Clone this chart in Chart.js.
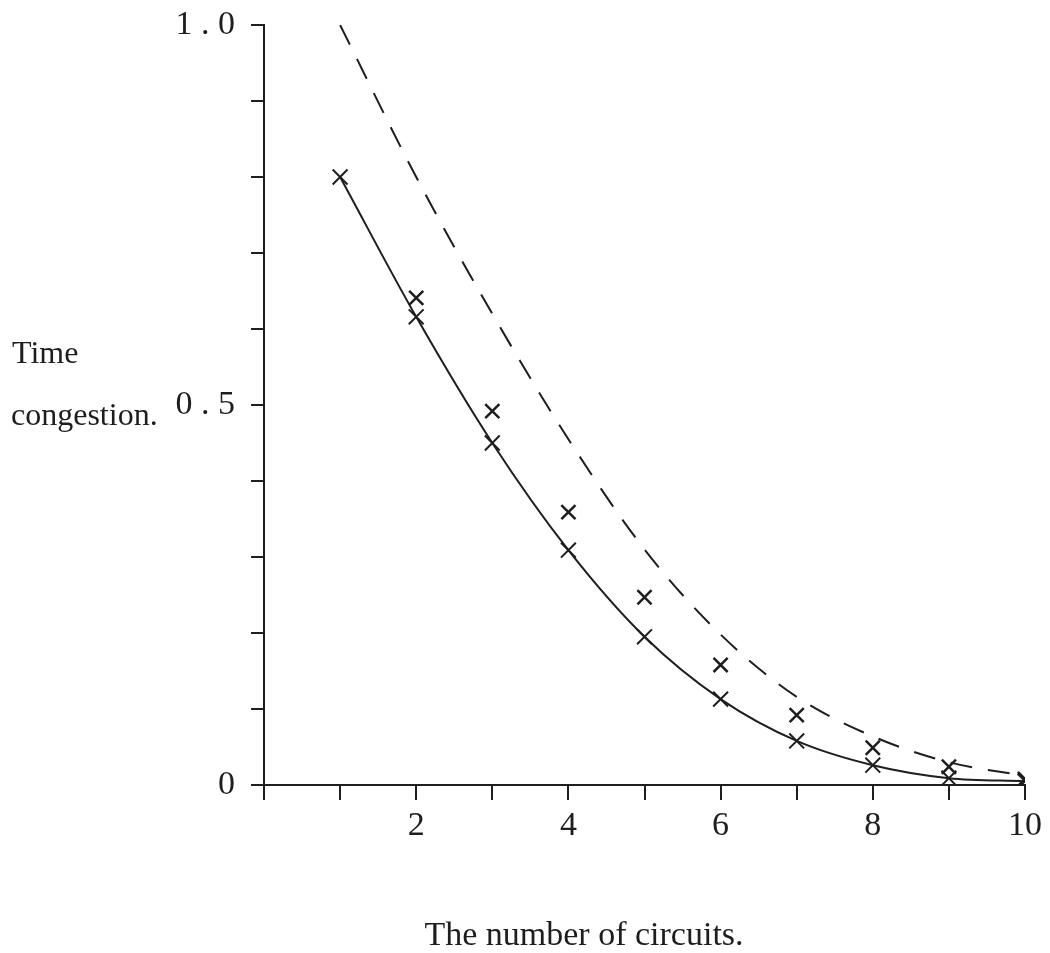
<!DOCTYPE html>
<html>
<head>
<meta charset="utf-8">
<title>Time congestion</title>
<script src="https://cdn.jsdelivr.net/npm/chart.js@4/dist/chart.umd.min.js"></script>
<style>
    html, body { margin: 0; padding: 0; background: #fff; }
    canvas { display: block; }
</style>
</head>
<body>
<canvas id="grafico" width="1050" height="953"></canvas>
<script>
// ===============================
// DATA
// ===============================

const circuits = [1, 2, 3, 4, 5, 6, 7, 8, 9, 10];

// dashed curve
const bound = [1.0, 0.80, 0.62, 0.455, 0.31, 0.198, 0.116, 0.064, 0.03, 0.012];
// solid curve with crosses
const fitted = [0.80, 0.616, 0.45, 0.309, 0.195, 0.113, 0.058, 0.026, 0.009, 0.005];
// crosses without a line
const observedX = [2, 3, 4, 5, 6, 7, 8, 9, 10];
const observed = [0.641, 0.492, 0.359, 0.247, 0.158, 0.092, 0.049, 0.024, 0.008];

const xTickValues = [2, 4, 6, 8, 10];
const xTickLabels = ["2", "4", "6", "8", "10"];
const yTickValues = [0, 0.5, 1.0];
const yTickLabels = ["0", "0 . 5", "1 . 0"];

const xTitle = "The number of circuits.";
const yTitle = ["Time", "congestion."];

const INK = "#1e1e1e";
const FONT = "'Liberation Serif', 'DejaVu Serif', serif";

// ===============================
// AXIS TITLES
// ===============================

const axisTitles = {
    id: "axisTitles",
    afterDraw(chart) {
        const ctx = chart.ctx;
        ctx.save();
        ctx.fillStyle = INK;
        ctx.font = "32px " + FONT;
        ctx.textAlign = "left";
        ctx.textBaseline = "alphabetic";
        ctx.fillText(yTitle[0], 12, 363);
        ctx.fillText(yTitle[1], 11, 425);
        ctx.font = "34px " + FONT;
        ctx.textAlign = "center";
        ctx.fillText(xTitle, 584, 945);
        ctx.restore();
    }
};

function pairs(xs, ys) {
    return xs.map((x, i) => ({ x: x, y: ys[i] }));
}

// ===============================
// CHART
// ===============================

new Chart(document.getElementById("grafico"), {
    type: "line",
    data: {
        datasets: [
            {
                label: "bound",
                data: pairs(circuits, bound),
                borderColor: INK,
                borderWidth: 2,
                borderDash: [22, 16],
                pointRadius: 0,
                cubicInterpolationMode: "monotone",
                fill: false
            },
            {
                label: "fitted",
                data: pairs(circuits, fitted),
                borderColor: INK,
                borderWidth: 2,
                pointStyle: "crossRot",
                pointRadius: 10.5,
                pointBorderWidth: 2,
                pointBorderColor: INK,
                cubicInterpolationMode: "monotone",
                fill: false
            },
            {
                label: "observed",
                data: pairs(observedX, observed),
                showLine: false,
                pointStyle: "crossRot",
                pointRadius: 10,
                pointBorderWidth: 2.5,
                pointBorderColor: INK
            }
        ]
    },
    options: {
        responsive: false,
        animation: false,
        devicePixelRatio: 1,
        layout: {
            padding: { top: 25, right: 25, left: 0, bottom: 0 }
        },
        plugins: {
            legend: { display: false },
            tooltip: { enabled: false }
        },
        scales: {
            x: {
                type: "linear",
                min: 0,
                max: 10,
                afterFit(scale) {
                    scale.height = 168;
                    scale.paddingLeft = 0;
                    scale.paddingRight = 0;
                },
                border: { display: true, color: INK, width: 2 },
                grid: {
                    drawOnChartArea: false,
                    drawTicks: true,
                    tickLength: 15,
                    color: INK,
                    lineWidth: 2
                },
                ticks: {
                    stepSize: 1,
                    autoSkip: false,
                    maxRotation: 0,
                    padding: 6,
                    color: INK,
                    font: { family: FONT, size: 34 },
                    callback(v) {
                        const i = xTickValues.indexOf(Math.round(v));
                        return i >= 0 ? xTickLabels[i] : "";
                    }
                }
            },
            y: {
                min: 0,
                max: 1,
                afterFit(scale) {
                    scale.width = 264;
                    scale.paddingTop = 0;
                    scale.paddingBottom = 0;
                },
                border: { display: true, color: INK, width: 2 },
                grid: {
                    drawOnChartArea: false,
                    drawTicks: true,
                    tickLength: 13,
                    color: INK,
                    lineWidth: 2
                },
                ticks: {
                    stepSize: 0.1,
                    autoSkip: false,
                    padding: 16,
                    color: INK,
                    font: { family: FONT, size: 34 },
                    callback(v) {
                        const i = yTickValues.findIndex(t => Math.abs(t - v) < 1e-6);
                        return i >= 0 ? yTickLabels[i] : "";
                    }
                }
            }
        }
    },
    plugins: [axisTitles]
});
</script>
</body>
</html>
